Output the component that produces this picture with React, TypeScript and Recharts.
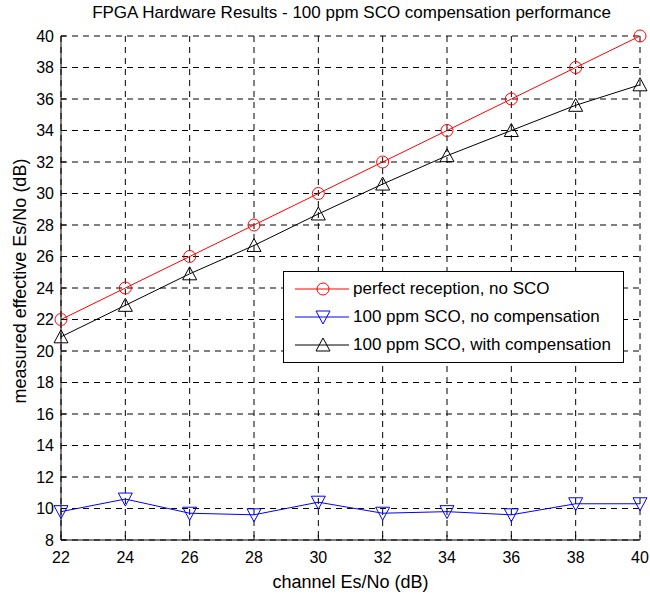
import { LineChart, Line, XAxis, YAxis, CartesianGrid } from "recharts";

// channel Es/No (dB)
const channel = [22, 24, 26, 28, 30, 32, 34, 36, 38, 40];
const perfect = [22, 24, 26, 28, 30, 32, 34, 36, 38, 40];
const noComp = [9.8, 10.6, 9.7, 9.6, 10.4, 9.7, 9.8, 9.6, 10.3, 10.3];
const withComp = [20.9, 22.9, 24.9, 26.7, 28.7, 30.6, 32.4, 34.0, 35.6, 36.9];

const xTicks = [22, 24, 26, 28, 30, 32, 34, 36, 38, 40];
const yTicks = [8, 10, 12, 14, 16, 18, 20, 22, 24, 26, 28, 30, 32, 34, 36, 38, 40];

const FONT = "'Liberation Sans', Arial, sans-serif";
const TICK_GAP = 7;

const data = channel.map((c, i) => ({ c, perfect: perfect[i], noComp: noComp[i], withComp: withComp[i] }));

type Mk = "circle" | "down" | "up";

function marker(kind: Mk, cx: number, cy: number, color: string, key?: string | number) {
  if (kind === "circle") return <circle key={key} cx={cx} cy={cy} r={6} fill="none" stroke={color} strokeWidth={1} />;
  const s = 7;
  const pts =
    kind === "down"
      ? `${cx - s},${cy - s + 1} ${cx + s},${cy - s + 1} ${cx},${cy + s}`
      : `${cx - s},${cy + s - 1} ${cx + s},${cy + s - 1} ${cx},${cy - s}`;
  return <polygon key={key} points={pts} fill="none" stroke={color} strokeWidth={1} />;
}

const dotFn = (kind: Mk, color: string) => (p: any) => marker(kind, p.cx, p.cy, color, p.index);

const SERIES: { key: string; name: string; color: string; mk: Mk }[] = [
  { key: "perfect", name: "perfect reception, no SCO", color: "#ff0000", mk: "circle" },
  { key: "noComp", name: "100 ppm SCO, no compensation", color: "#0000ff", mk: "down" },
  { key: "withComp", name: "100 ppm SCO, with compensation", color: "#000000", mk: "up" },
];

function LegendBox() {
  return (
    <div
      style={{
        position: "absolute", left: 283, top: 271, width: 339, height: 90,
        border: "1px solid #000", background: "#fff", fontFamily: FONT, fontSize: 17, color: "#000",
      }}
    >
      {SERIES.map((s, i) => (
        <div key={s.key} style={{ display: "flex", alignItems: "center", height: 28, marginTop: i === 0 ? 3 : 0 }}>
          <svg width={69} height={20}>
            <line x1={11} y1={10} x2={65} y2={10} stroke={s.color} strokeWidth={1} />
            {marker(s.mk, 39, 10, s.color)}
          </svg>
          <span>{s.name}</span>
        </div>
      ))}
    </div>
  );
}

// y tick: label left of axis + short inward tick mark
const YTick = (p: any) => {
  const ax = p.x + TICK_GAP;
  return (
    <g>
      <line x1={ax} y1={p.y} x2={ax + 5} y2={p.y} stroke="#000" />
      <text x={p.x} y={p.y} textAnchor="end" dominantBaseline="central" fontSize={16} fontFamily={FONT} fill="#000">
        {p.payload.value}
      </text>
    </g>
  );
};

// x tick: label under axis + short upward tick mark
const XTick = (p: any) => {
  const ay = p.y - 10;
  return (
    <g>
      <line x1={p.x} y1={ay} x2={p.x} y2={ay - 5} stroke="#000" />
      <text x={p.x} y={p.y + 13} textAnchor="middle" fontSize={16} fontFamily={FONT} fill="#000">
        {p.payload.value}
      </text>
    </g>
  );
};

const yLabel = (props: any) => {
  const vb = props.viewBox;
  const cx = 20;
  const cy = vb.y + vb.height / 2 - 7;
  return (
    <text x={cx} y={cy} transform={`rotate(-90, ${cx}, ${cy})`} textAnchor="middle" dominantBaseline="central" fontSize={18} fontFamily={FONT} fill="#000">
      measured effective Es/No (dB)
    </text>
  );
};

export default function App() {
  return (
    <div style={{ position: "absolute", left: 0, top: 0, width: 650, height: 594, background: "#fff" }}>
      <div style={{ position: "absolute", top: 3, left: 62, width: 579, textAlign: "center", fontFamily: FONT, fontSize: 17, color: "#000" }}>
        FPGA Hardware Results - 100 ppm SCO compensation performance
      </div>
      <LineChart width={650} height={594} data={data} margin={{ top: 36, right: 10, bottom: 0, left: 0 }}>
        <CartesianGrid stroke="#000" strokeDasharray="6 5" strokeWidth={1} />
        <XAxis
          dataKey="c"
          type="number"
          domain={[22, 40]}
          ticks={xTicks}
          height={54}
          axisLine={{ stroke: "#000" }}
          tickLine={false}
          tickSize={0}
          tickMargin={10}
          tick={XTick}
          label={{ value: "channel Es/No (dB)", position: "insideBottom", offset: 6, fill: "#000", fontSize: 18, fontFamily: FONT }}
        />
        <YAxis
          type="number"
          domain={[8, 40]}
          ticks={yTicks}
          width={61}
          axisLine={{ stroke: "#000" }}
          tickLine={false}
          tickSize={0}
          tickMargin={TICK_GAP}
          tick={YTick}
          label={yLabel}
        />
        {SERIES.map((s) => (
          <Line
            key={s.key}
            dataKey={s.key}
            name={s.name}
            stroke={s.color}
            strokeWidth={1}
            type="linear"
            dot={dotFn(s.mk, s.color)}
            activeDot={false}
            isAnimationActive={false}
          />
        ))}
      </LineChart>
      <LegendBox />
    </div>
  );
}
